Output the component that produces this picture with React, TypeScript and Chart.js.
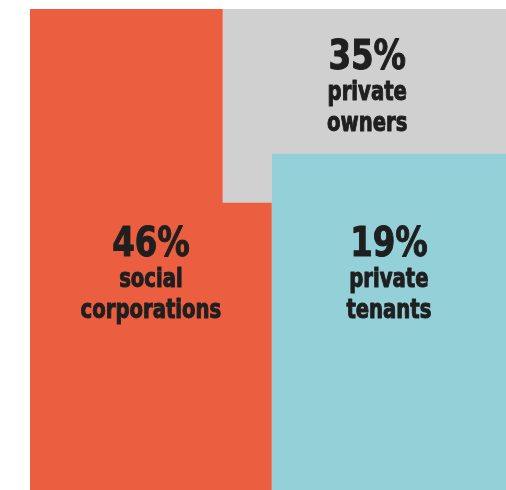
import React, { useEffect, useRef } from "react";
import { Chart, registerables } from "chart.js";

Chart.register(...registerables);

// ---- data ----
const categories = ["social corporations", "private owners", "private tenants"];
const shares = [46, 35, 19];
const labelLines = [
  ["social", "corporations"],
  ["private", "owners"],
  ["private", "tenants"],
];
const colors = ["#EC5E40", "#D0D0D0", "#93D0D8"];

// block boundaries in the 0..100 chart space
const socialTopRight = 40.5;
const socialBottomRight = 50.8;
const ownersBottom = 59.7;
const tenantsTop = 69.9;

// label anchors (percentage baseline) in chart space
const labelX = [socialBottomRight / 2, (socialTopRight + 100) / 2 + 0.6, (socialBottomRight + 100) / 2];
const labelY = [48.6, 87.5, 48.6];

const FONT = "'DejaVu Sans Condensed', 'DejaVu Sans', sans-serif";

function drawText(ctx: any, text: string, x: number, y: number, size: number, sx: number) {
  ctx.save();
  ctx.translate(x, y);
  ctx.scale(sx, 1);
  ctx.font = `bold ${size}px ${FONT}`;
  ctx.fillText(text, 0, 0);
  ctx.lineWidth = 1;
  ctx.strokeText(text, 0, 0);
  ctx.restore();
}

const labelPlugin = {
  id: "blockLabels",
  afterDatasetsDraw(chart: any) {
    const ctx = chart.ctx;
    const xs = chart.scales.x;
    const ys = chart.scales.y;
    ctx.save();
    ctx.fillStyle = "#1f1f1f";
    ctx.strokeStyle = "#1f1f1f";
    ctx.lineJoin = "round";
    ctx.textAlign = "center";
    ctx.textBaseline = "alphabetic";
    categories.forEach((_, i) => {
      const px = xs.getPixelForValue(labelX[i]);
      const py = ys.getPixelForValue(labelY[i]);
      drawText(ctx, `${shares[i]}%`, px, py, 40, 0.9);
      labelLines[i].forEach((t, j) => {
        drawText(ctx, t, px, py + 31 * (j + 1), 26, 0.84);
      });
    });
    ctx.restore();
  },
};

export default function App() {
  const ref = useRef<HTMLCanvasElement>(null);
  useEffect(() => {
    if (!ref.current) return;
    const chart = new Chart(ref.current, {
      type: "line",
      data: {
        datasets: [
          {
            label: categories[0],
            data: [
              { x: 0, y: 100 },
              { x: socialTopRight, y: 100 },
              { x: socialTopRight, y: ownersBottom },
              { x: socialBottomRight, y: ownersBottom },
              { x: socialBottomRight, y: 0 },
            ],
            backgroundColor: colors[0],
            borderWidth: 0,
            pointRadius: 0,
            fill: "origin",
            order: 0,
          },
          {
            label: categories[2],
            data: [
              { x: socialBottomRight, y: tenantsTop },
              { x: 100, y: tenantsTop },
            ],
            backgroundColor: colors[2],
            borderWidth: 0,
            pointRadius: 0,
            fill: "origin",
            order: 1,
          },
          {
            label: categories[1],
            data: [
              { x: socialTopRight, y: 100 },
              { x: 100, y: 100 },
            ],
            backgroundColor: colors[1],
            borderWidth: 0,
            pointRadius: 0,
            fill: "origin",
            order: 2,
          },
        ],
      },
      options: {
        animation: false,
        responsive: false,
        devicePixelRatio: 1,
        layout: { padding: 0 },
        plugins: { legend: { display: false }, tooltip: { enabled: false } },
        scales: {
          x: { type: "linear", min: 0, max: 100, display: false },
          y: { type: "linear", min: 0, max: 100, display: false },
        },
      },
      plugins: [labelPlugin],
    });
    return () => chart.destroy();
  }, []);
  return (
    <div style={{ position: "fixed", left: 30, top: 9, width: 476, height: 481 }}>
      <canvas ref={ref} width={476} height={481} style={{ display: "block" }} />
    </div>
  );
}
